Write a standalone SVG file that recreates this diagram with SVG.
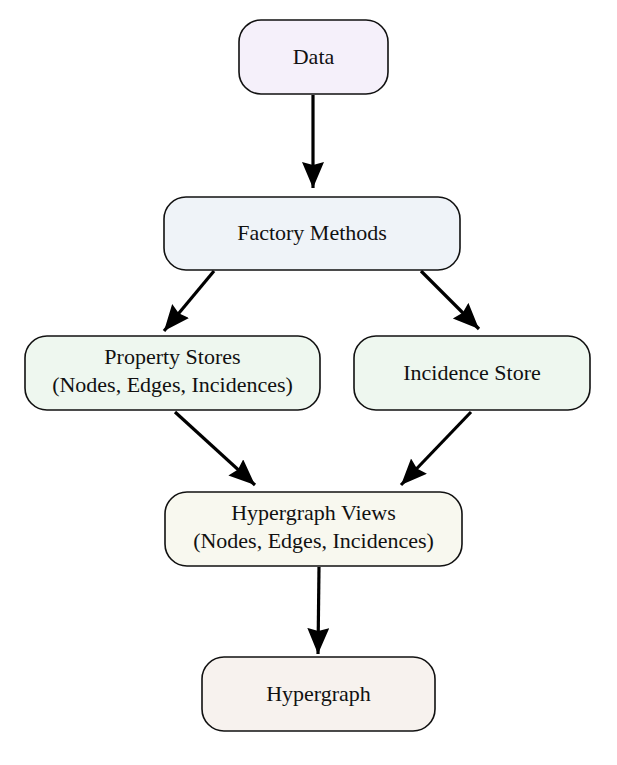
<svg xmlns="http://www.w3.org/2000/svg" width="617" height="765" viewBox="0 0 617 765">
<style>
.box{stroke:#111;stroke-width:1.6}
.lbl{font-family:"Liberation Serif","Times New Roman",serif;font-size:22px;fill:#111;text-anchor:middle}
.edge{stroke:#000;stroke-width:3.2;fill:none}
</style>
<defs>
<marker id="ah" markerUnits="userSpaceOnUse" markerWidth="30" markerHeight="26" refX="26" refY="11" orient="auto">
<path d="M0,0 L26,11 L0,22 L3,11 Z" fill="#000"/>
</marker>
</defs>
<rect width="617" height="765" fill="#fff"/>
<g id="connectors">
<line class="edge" x1="313" y1="95" x2="313" y2="188" marker-end="url(#ah)"/>
<line class="edge" x1="214" y1="271" x2="164" y2="331" marker-end="url(#ah)"/>
<line class="edge" x1="421" y1="271" x2="479" y2="329" marker-end="url(#ah)"/>
<line class="edge" x1="175" y1="412" x2="255" y2="485" marker-end="url(#ah)"/>
<line class="edge" x1="471" y1="412" x2="401" y2="485" marker-end="url(#ah)"/>
<line class="edge" x1="319" y1="567" x2="318" y2="654" marker-end="url(#ah)"/>
</g>
<g id="data">
<rect class="box" x="239" y="20" width="149" height="74" rx="22" fill="#f5f0fa"/>
<text class="lbl" x="313.5" y="64">Data</text>
</g>
<g id="factory">
<rect class="box" x="164" y="197" width="296" height="73" rx="22" fill="#eff3f8"/>
<text class="lbl" x="312" y="240">Factory Methods</text>
</g>
<g id="property">
<rect class="box" x="25" y="336" width="295" height="74" rx="22" fill="#eef7ef"/>
<text class="lbl" x="172.5" y="364">Property Stores</text>
<text class="lbl" x="172.5" y="392">(Nodes, Edges, Incidences)</text>
</g>
<g id="incidence">
<rect class="box" x="354" y="336" width="236" height="74" rx="22" fill="#eef7ef"/>
<text class="lbl" x="472" y="380">Incidence Store</text>
</g>
<g id="views">
<rect class="box" x="165" y="492" width="297" height="74" rx="22" fill="#f8f8ef"/>
<text class="lbl" x="313.5" y="520">Hypergraph Views</text>
<text class="lbl" x="313.5" y="548">(Nodes, Edges, Incidences)</text>
</g>
<g id="hypergraph">
<rect class="box" x="202" y="657" width="233" height="74" rx="22" fill="#f7f2ee"/>
<text class="lbl" x="318.5" y="701">Hypergraph</text>
</g>
</svg>
